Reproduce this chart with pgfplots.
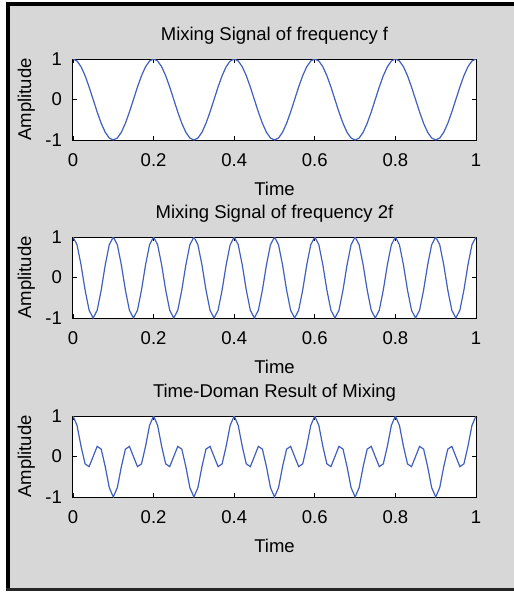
\documentclass[border=0pt]{standalone}
\usepackage{fontspec}
\setmainfont{Liberation Sans}
\usepackage{pgfplots}
\usepackage{pgfplotstable}
\pgfplotsset{compat=1.18}

\definecolor{figgray}{RGB}{215,215,215}
\definecolor{sigblue}{RGB}{65,95,190}
\newcommand\fs{\fontsize{18.5}{22}\selectfont}

% t, signal f, signal 2f, product
\pgfplotstableread{
t a b c
0.00 1 1 1
0.01 0.951 0.809 0.769
0.02 0.809 0.309 0.250
0.03 0.588 -0.309 -0.182
0.04 0.309 -0.809 -0.250
0.05 0 -1 0
0.06 -0.309 -0.809 0.250
0.07 -0.588 -0.309 0.182
0.08 -0.809 0.309 -0.250
0.09 -0.951 0.809 -0.769
0.10 -1 1 -1
0.11 -0.951 0.809 -0.769
0.12 -0.809 0.309 -0.250
0.13 -0.588 -0.309 0.182
0.14 -0.309 -0.809 0.250
0.15 0 -1 0
0.16 0.309 -0.809 -0.250
0.17 0.588 -0.309 -0.182
0.18 0.809 0.309 0.250
0.19 0.951 0.809 0.769
0.20 1 1 1
0.21 0.951 0.809 0.769
0.22 0.809 0.309 0.250
0.23 0.588 -0.309 -0.182
0.24 0.309 -0.809 -0.250
0.25 0 -1 0
0.26 -0.309 -0.809 0.250
0.27 -0.588 -0.309 0.182
0.28 -0.809 0.309 -0.250
0.29 -0.951 0.809 -0.769
0.30 -1 1 -1
0.31 -0.951 0.809 -0.769
0.32 -0.809 0.309 -0.250
0.33 -0.588 -0.309 0.182
0.34 -0.309 -0.809 0.250
0.35 0 -1 0
0.36 0.309 -0.809 -0.250
0.37 0.588 -0.309 -0.182
0.38 0.809 0.309 0.250
0.39 0.951 0.809 0.769
0.40 1 1 1
0.41 0.951 0.809 0.769
0.42 0.809 0.309 0.250
0.43 0.588 -0.309 -0.182
0.44 0.309 -0.809 -0.250
0.45 0 -1 0
0.46 -0.309 -0.809 0.250
0.47 -0.588 -0.309 0.182
0.48 -0.809 0.309 -0.250
0.49 -0.951 0.809 -0.769
0.50 -1 1 -1
0.51 -0.951 0.809 -0.769
0.52 -0.809 0.309 -0.250
0.53 -0.588 -0.309 0.182
0.54 -0.309 -0.809 0.250
0.55 0 -1 0
0.56 0.309 -0.809 -0.250
0.57 0.588 -0.309 -0.182
0.58 0.809 0.309 0.250
0.59 0.951 0.809 0.769
0.60 1 1 1
0.61 0.951 0.809 0.769
0.62 0.809 0.309 0.250
0.63 0.588 -0.309 -0.182
0.64 0.309 -0.809 -0.250
0.65 0 -1 0
0.66 -0.309 -0.809 0.250
0.67 -0.588 -0.309 0.182
0.68 -0.809 0.309 -0.250
0.69 -0.951 0.809 -0.769
0.70 -1 1 -1
0.71 -0.951 0.809 -0.769
0.72 -0.809 0.309 -0.250
0.73 -0.588 -0.309 0.182
0.74 -0.309 -0.809 0.250
0.75 0 -1 0
0.76 0.309 -0.809 -0.250
0.77 0.588 -0.309 -0.182
0.78 0.809 0.309 0.250
0.79 0.951 0.809 0.769
0.80 1 1 1
0.81 0.951 0.809 0.769
0.82 0.809 0.309 0.250
0.83 0.588 -0.309 -0.182
0.84 0.309 -0.809 -0.250
0.85 0 -1 0
0.86 -0.309 -0.809 0.250
0.87 -0.588 -0.309 0.182
0.88 -0.809 0.309 -0.250
0.89 -0.951 0.809 -0.769
0.90 -1 1 -1
0.91 -0.951 0.809 -0.769
0.92 -0.809 0.309 -0.250
0.93 -0.588 -0.309 0.182
0.94 -0.309 -0.809 0.250
0.95 0 -1 0
0.96 0.309 -0.809 -0.250
0.97 0.588 -0.309 -0.182
0.98 0.809 0.309 0.250
0.99 0.951 0.809 0.769
1.00 1 1 1
}\sig

\pgfplotsset{
  mixax/.style={
    scale only axis, width=403pt, height=81pt,
    anchor=north west,
    xmin=0, xmax=1, ymin=-1, ymax=1,
    xtick={0,0.2,0.4,0.6,0.8,1},
    xticklabels={0,0.2,0.4,0.6,0.8,1},
    ytick={-1,0,1},
    yticklabels={-1,0,1},
    tick align=inside, xtick pos=both, ytick pos=both,
    major tick length=4pt,
    every tick/.style={black, line width=0.8pt},
    axis line style={black, line width=1pt},
    axis background/.style={fill=white},
    tick label style={font=\fs},
    xticklabel style={anchor=base, inner sep=0pt, yshift=-26pt},
    yticklabel style={anchor=east, inner sep=0pt, xshift=-11pt},
    label style={font=\fs},
    xlabel={Time},
    ylabel={Amplitude},
    xlabel style={at={(axis description cs:0.5,-0.679)}, anchor=base, inner sep=0pt},
    ylabel style={at={(axis description cs:-0.104,0.5)}, anchor=base, inner sep=0pt},
    title style={font=\fs, at={(axis description cs:0.5,1.16)}, anchor=base, inner sep=0pt},
  },
}

\begin{document}
\begin{tikzpicture}[x=1pt,y=1pt]
\useasboundingbox (0,0) rectangle (514,-592);
\fill[white] (0,0) rectangle (514,-592);
\fill[figgray] (8,-4) rectangle (514,-590);
\draw[black, line width=4pt] (6,-4) -- (514,-4);
\draw[black, line width=4pt] (8,-2) -- (8,-591);
\draw[black!85, line width=2.5pt] (6,-589.7) -- (514,-589.7);

\begin{axis}[mixax, at={(73pt,-59pt)}, title={Mixing Signal of frequency f}]
\addplot[sigblue, line width=1.2pt] table[x=t, y=a] {\sig};
\end{axis}

\begin{axis}[mixax, at={(73pt,-237pt)}, title={Mixing Signal of frequency 2f}]
\addplot[sigblue, line width=1.2pt] table[x=t, y=b] {\sig};
\end{axis}

\begin{axis}[mixax, at={(73pt,-416pt)}, title={Time-Doman Result of Mixing}]
\addplot[sigblue, line width=1.2pt] table[x=t, y=c] {\sig};
\end{axis}
\end{tikzpicture}
\end{document}
